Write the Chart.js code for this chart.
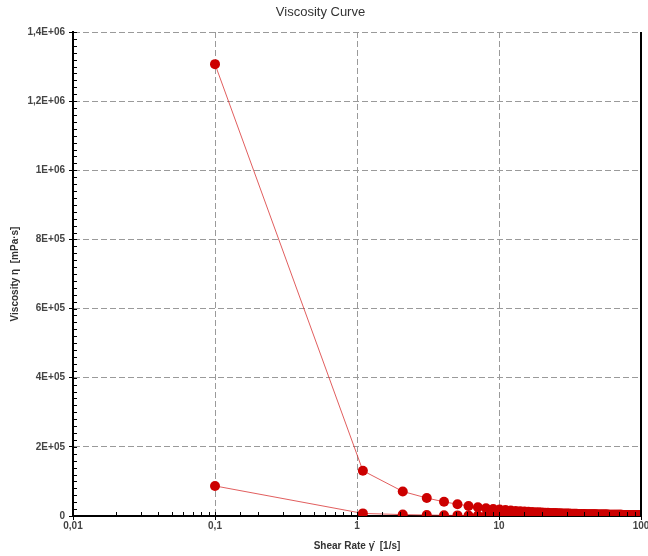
<!DOCTYPE html>
<html>
<head>
<meta charset="utf-8">
<script src="https://cdn.jsdelivr.net/npm/chart.js@4"></script>
<style>
html,body{margin:0;padding:0;background:#fff;overflow:hidden;width:648px;height:556px;}
canvas{display:block;}
</style>
</head>
<body>
<canvas id="c" width="656" height="556"></canvas>
<script>
const shearRate = [0.1,
 1.1,2.1,3.1,4.1,5.1,6.1,7.1,8.1,9.1,10.1,
 11.1,12.1,13.1,14.1,15.1,16.1,17.1,18.1,19.1,20.1,
 21.1,22.1,23.1,24.1,25.1,26.1,27.1,28.1,29.1,30.1,
 31.1,32.1,33.1,34.1,35.1,36.1,37.1,38.1,39.1,40.1,
 41.1,42.1,43.1,44.1,45.1,46.1,47.1,48.1,49.1,50.1,
 51.1,52.1,53.1,54.1,55.1,56.1,57.1,58.1,59.1,60.1,
 61.1,62.1,63.1,64.1,65.1,66.1,67.1,68.1,69.1,70.1,
 71.1,72.1,73.1,74.1,75.1,76.1,77.1,78.1,79.1,80.1,
 81.1,82.1,83.1,84.1,85.1,86.1,87.1,88.1,89.1,90.1,
 91.1,92.1,93.1,94.1,95.1,96.1,97.1,98.1,99.1];

const viscosityHigh = [1307000,
 131000,71000,52000,41000,34000,29000,25400,22600,20400,18600,
 17100,15900,14800,13900,13100,12400,11700,11100,10600,10200,
 9700,9350,9000,8660,8360,8080,7810,7570,7340,7120,
 6920,6730,6550,6380,6220,6070,5930,5790,5660,5540,
 5420,5310,5190,5090,4990,4900,4810,4720,4630,4550,
 4470,4400,4330,4260,4190,4130,4060,4000,3940,3880,
 3820,3770,3720,3670,3620,3570,3520,3480,3430,3390,
 3350,3310,3270,3230,3190,3160,3120,3080,3050,3020,
 2980,2950,2920,2890,2860,2830,2800,2770,2750,2720,
 2690,2670,2640,2620,2590,2570,2550,2530,2500];

const viscosityLow = [87000,
 7500,4000,2800,2150,1750,1480,1280,1130,1010,912,
 833,768,712,664,622,585,553,524,497,474,
 452,432,415,398,383,369,356,344,333,322,
 313,303,295,287,279,272,265,258,252,246,
 241,235,230,225,221,216,212,208,204,200,
 197,193,190,187,184,181,178,175,172,170,
 167,165,163,160,158,156,154,152,150,148,
 146,144,142,141,139,137,136,134,133,131,
 130,128,127,126,124,123,122,121,119,118,
 117,116,115,114,113,112,111,110,109];

const xTickValues = [0.01, 0.1, 1, 10, 100];
const xTickLabels = ['0,01', '0,1', '1', '10', '100'];
const yTickValues = [0, 200000, 400000, 600000, 800000, 1000000, 1200000, 1400000];
const yTickLabels = ['0', '2E+05', '4E+05', '6E+05', '8E+05', '1E+06', '1,2E+06', '1,4E+06'];

const isMajorX = v => xTickValues.some(t => Math.abs(Math.log10(v) - Math.log10(t)) < 1e-6);
const isMajorY = v => yTickValues.some(t => Math.abs(v - t) < 1);

const toPoints = ys => shearRate.map((x, i) => ({x: x, y: ys[i]}));

const frame = {
  id: 'frame',
  afterDraw(chart) {
    const {ctx, chartArea: a, scales} = chart;
    ctx.save();
    ctx.strokeStyle = '#000';
    ctx.lineWidth = 1;
    ctx.beginPath();
    scales.y.ticks.forEach(t => {
      const py = Math.round(scales.y.getPixelForValue(t.value)) + 0.5;
      ctx.moveTo(a.left, py); ctx.lineTo(a.left + 4, py);
    });
    scales.x.ticks.forEach(t => {
      const px = Math.round(scales.x.getPixelForValue(t.value)) + 0.5;
      ctx.moveTo(px, a.bottom); ctx.lineTo(px, a.bottom - 4);
    });
    ctx.stroke();
    ctx.lineWidth = 2;
    ctx.beginPath();
    ctx.moveTo(a.right, a.top);
    ctx.lineTo(a.right, a.bottom + 1);
    ctx.stroke();
    ctx.restore();
  }
};

const tickFont = {family: 'Liberation Sans, Arial, sans-serif', size: 10, weight: 'bold'};

new Chart(document.getElementById('c'), {
  type: 'line',
  data: {
    datasets: [
      {
        data: toPoints(viscosityHigh),
        borderColor: 'rgba(215,40,40,0.75)',
        borderWidth: 1,
        pointRadius: 5,
        pointBackgroundColor: '#cc0000',
        pointBorderColor: '#cc0000',
        pointBorderWidth: 0,
        tension: 0
      },
      {
        data: toPoints(viscosityLow),
        borderColor: 'rgba(215,40,40,0.75)',
        borderWidth: 1,
        pointRadius: 5,
        pointBackgroundColor: '#cc0000',
        pointBorderColor: '#cc0000',
        pointBorderWidth: 0,
        tension: 0
      }
    ]
  },
  options: {
    responsive: false,
    animation: false,
    devicePixelRatio: 1,
    layout: {padding: {left: 0, right: 15, top: 0, bottom: 0}},
    plugins: {
      legend: {display: false},
      tooltip: {enabled: false},
      title: {
        display: true,
        text: 'Viscosity Curve',
        color: '#333',
        font: {family: 'Liberation Sans, Arial, sans-serif', size: 13, weight: 'normal'},
        padding: {top: 4.2, bottom: 12.2}
      }
    },
    scales: {
      x: {
        type: 'logarithmic',
        min: 0.01,
        max: 100,
        afterFit(s) { s.height = 40; },
        border: {display: true, color: '#000', width: 2, dash: [6, 3]},
        grid: {
          color: c => (c.tick && isMajorX(c.tick.value)) ? '#9a9a9a' : 'rgba(0,0,0,0)',
          lineWidth: 1,
          drawTicks: true,
          tickLength: 4,
          tickColor: c => (c.tick && isMajorX(c.tick.value)) ? '#000' : 'rgba(0,0,0,0)'
        },
        ticks: {
          autoSkip: false,
          maxRotation: 0,
          padding: 0,
          color: '#444',
          font: tickFont,
          callback: (v) => {
            const i = xTickValues.findIndex(t => Math.abs(Math.log10(v) - Math.log10(t)) < 1e-6);
            return i >= 0 ? xTickLabels[i] : '';
          }
        },
        title: {
          display: true,
          text: 'Shear Rate \u03B3\u0307  [1/s]',
          color: '#333',
          font: {family: 'Liberation Sans, Arial, sans-serif', size: 10, weight: 'bold'},
          padding: {top: 0, bottom: 4}
        }
      },
      y: {
        type: 'linear',
        min: 0,
        max: 1400000,
        afterFit(s) { s.width = 73; },
        border: {display: true, color: '#000', width: 2, dash: [6, 3]},
        grid: {
          color: c => (c.tick && isMajorY(c.tick.value) && c.tick.value > 0) ? '#9a9a9a' : 'rgba(0,0,0,0)',
          lineWidth: 1,
          drawTicks: true,
          tickLength: 4,
          tickColor: c => (c.tick && isMajorY(c.tick.value)) ? '#000' : 'rgba(0,0,0,0)'
        },
        ticks: {
          stepSize: 20000,
          autoSkip: false,
          padding: 4,
          color: '#444',
          font: tickFont,
          callback: (v) => {
            const i = yTickValues.findIndex(t => Math.abs(v - t) < 1);
            return i >= 0 ? yTickLabels[i] : '';
          }
        },
        title: {
          display: true,
          text: 'Viscosity \u03B7  [mPa\u00B7s]',
          color: '#333',
          font: {family: 'Liberation Sans, Arial, sans-serif', size: 10, weight: 'bold'},
          padding: {top: 9}
        }
      }
    }
  },
  plugins: [frame]
});
</script>
</body>
</html>
